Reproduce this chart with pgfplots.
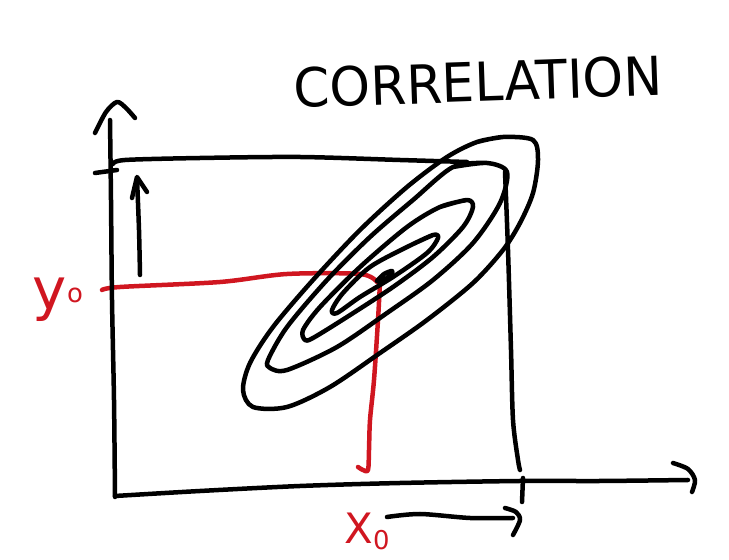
\documentclass[border=0pt]{standalone}
\usepackage{pgfplots}
\pgfplotsset{compat=1.18}
\usepackage{fontspec}
\setmainfont{DejaVu Sans}
\definecolor{penred}{RGB}{208,22,32}
\begin{document}
\begin{tikzpicture}
\begin{axis}[
  width=729bp, height=560bp, scale only axis,
  xmin=0, xmax=729, ymin=0, ymax=560, y dir=reverse,
  hide axis, clip=false,
  every axis plot/.append style={line width=4.5bp, line cap=round, line join=round, black, mark=none},
]
\addplot[draw=none] coordinates {(0,0) (729,560)};
% red guide lines
\addplot[penred, smooth] coordinates {(102,290) (120,287) (220,282) (287,274) (360,274) (377,282)};
\addplot[penred, smooth] coordinates {(380,282) (378,320) (374,380) (370,420) (369,450) (368,470) (363,470) (358,467)};
% axes
\addplot[smooth] coordinates {(115,497) (114,400) (112,300) (111,200) (110,120)};
\addplot[smooth] coordinates {(95,133) (106,112) (117,102) (126,108) (135,118)};
\addplot[smooth] coordinates {(115,496) (200,491) (300,486) (400,483) (520,481) (600,481) (688,480)};
\addplot[smooth] coordinates {(673,463) (688,469) (695,480) (692,492)};
% box
\addplot[smooth] coordinates {(95,173) (117,170)};
\addplot[smooth] coordinates {(113,164) (125,160) (200,158) (300,157) (400,160) (467,162)};
\addplot[smooth] coordinates {(505,172) (508,250) (511,350) (513,420) (518,460) (520,470)};
\addplot[smooth] coordinates {(523,478) (522,502)};
% up arrow
\addplot[smooth] coordinates {(140,275) (139,230) (137,178)};
\addplot[sharp plot] coordinates {(132,198) (137,177) (147,192)};
% bottom arrow
\addplot[smooth] coordinates {(387,517) (420,514) (470,518) (513,518)};
\addplot[smooth] coordinates {(505,508) (516,512) (520,520) (513,535)};
% ellipses
\addplot[smooth] coordinates {(477,142) (503,137) (533,140) (538,160) (533,193) (520,223) (503,250) (473,283) (427,320) (380,353) (330,387) (287,407) (253,407) (243,390) (250,363) (273,327) (313,280) (360,230) (407,187) (447,157) (477,142) (503,137)};
\addplot[smooth] coordinates {(453,167) (487,163) (507,172) (500,203) (473,243) (433,280) (387,313) (337,347) (287,370) (270,368) (268,360) (287,327) (327,280) (370,237) (413,200) (453,167) (487,163)};
\addplot[smooth] coordinates {(440,207) (467,200) (473,207) (463,227) (433,257) (393,287) (347,317) (313,338) (305,340) (303,330) (320,307) (360,267) (407,227) (440,207) (467,200)};
\addplot[smooth] coordinates {(407,247) (433,235) (438,238) (427,253) (393,277) (360,297) (337,313) (332,310) (343,293) (370,267) (407,247) (433,235)};
\addplot[smooth] coordinates {(377,281) (384,274) (392,271) (391,275) (382,281) (377,281) (384,274)};
% labels
\node[font=\fontsize{54}{54}\selectfont, rotate=2, xscale=0.96] at (axis cs:478,82) {CORRELATION};
\node[penred, font=\fontsize{58}{58}\selectfont] at (axis cs:58,300) {y\raisebox{0.12em}{\fontsize{26}{26}\selectfont o}};
\node[penred, font=\fontsize{42}{42}\selectfont] at (axis cs:367,531) {X\raisebox{-6bp}{\fontsize{26}{26}\selectfont 0}};
\end{axis}
\end{tikzpicture}
\end{document}
